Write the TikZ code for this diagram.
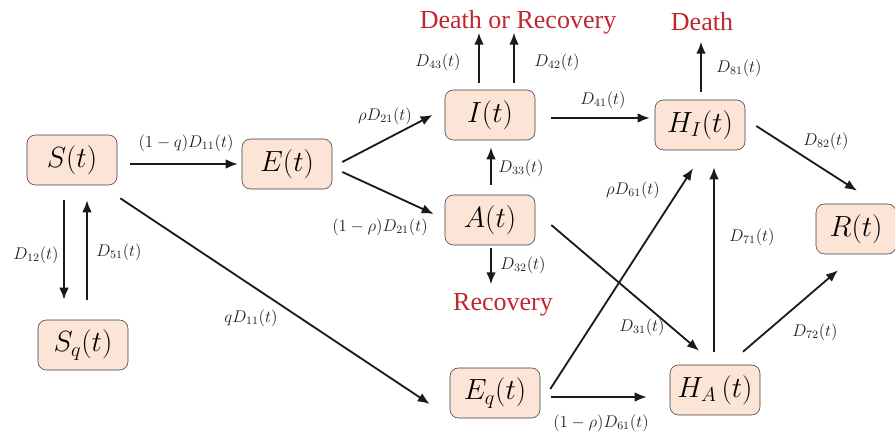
\documentclass[tikz,border=0pt]{standalone}
\usepackage[no-math]{fontspec}
\newfontfamily\outfont{Liberation Serif}
\usetikzlibrary{arrows.meta,calc}
\definecolor{peach}{HTML}{FCE4D6}
\definecolor{edge}{HTML}{404040}
\definecolor{ink}{HTML}{1A1A1A}
\definecolor{deathred}{HTML}{C0262D}

\begin{document}
\begin{tikzpicture}[x=0.025cm,y=-0.025cm,
  box/.style={draw=edge,fill=peach,rounded corners=6pt,minimum width=2.25cm,minimum height=1.25cm,inner sep=0pt,font=\fontsize{21}{24}\selectfont},
  flow/.style={-{Latex[length=0.3cm,width=0.24cm]},line width=1.3pt,draw=ink},
  lab/.style={inner sep=0pt,text=black!88,font=\fontsize{12}{14}\selectfont},
  outcome/.style={inner sep=0pt,text=deathred,font=\fontsize{18.5}{22}\selectfont\outfont}]
\useasboundingbox (0,0) rectangle (895,432);
% compartments
\node[box] (S) at (72,160){$S(t)$};
\node[box] (E) at (287,164){$E(t)$};
\node[box] (Sq) at (83,345){$S_q(t)$};
\node[box] (I) at (490,115){$I(t)$};
\node[box] (A) at (490,220){$A(t)$};
\node[box] (HI) at (700,125){$H_I(t)$};
\node[box,minimum width=2cm] (R) at (856,229){$R(t)$};
\node[box] (Eq) at (495,393){$E_q(t)$};
\node[box] (HA) at (715,390){$H_A\,(t)$};
% outcomes
\node[outcome] (dr) at (518,22){Death or Recovery};
\node[outcome] (dth) at (702,22){Death};
\node[outcome] (rec) at (503,305){Recovery};
% flows
\draw[flow] ([shift={(13,4)}]S.east)--([shift={(-4,0)}]E.west);
\draw[flow] ([shift={(-8,15)}]S.south)--([shift={(-19,-20)}]Sq.north);
\draw[flow] ([shift={(4,-20)}]Sq.north)--([shift={(15,15)}]S.south);
\draw[flow] ([shift={(3,13)}]S.south east)--([shift={(-20,11)}]Eq.west);
\draw[flow] ([shift={(10,-2)}]E.east)--([shift={(-12,0)}]I.west);
\draw[flow] ([shift={(10,8)}]E.east)--([shift={(-11,-6)}]A.west);
\draw[flow] ([shift={(-11,-7)}]I.north)--([shift={(-11,-57)}]I.north);
\draw[flow] ([shift={(24,-7)}]I.north)--([shift={(24,-57)}]I.north);
\draw[flow] ([shift={(1,-10)}]A.north)--([shift={(1,7)}]I.south);
\draw[flow] ([shift={(1,3)}]A.south)--([shift={(1,39)}]A.south);
\draw[flow] ([shift={(16,3)}]I.east)--([shift={(-5,-7)}]HI.west);
\draw[flow] ([shift={(1,-8)}]HI.north)--([shift={(1,-58)}]HI.north);
\draw[flow] ([shift={(11,1)}]HI.east)--([shift={(1,-13)}]R.north);
\draw[flow] ([shift={(10,-4)}]Eq.east)--([shift={(-7,18)}]HI.south);
\draw[flow] ([shift={(11,4)}]Eq.east)--([shift={(-23,7)}]HA.west);
\draw[flow] ([shift={(16,5)}]A.east)--([shift={(-16,-14)}]HA.north);
\draw[flow] ([shift={(-1,-13)}]HA.north)--([shift={(14,17)}]HI.south);
\draw[flow] ([shift={(28,-13)}]HA.north)--([shift={(-18,16)}]R.south);
% rates
\node[lab] (l1) at (186,143){$(1-q)D_{11}(t)$};
\node[lab] (l2) at (36,255){$D_{12}(t)$};
\node[lab] (l3) at (119,252){$D_{51}(t)$};
\node[lab] (l4) at (251,318){$qD_{11}(t)$};
\node[lab] (l5) at (385,116){$\rho D_{21}(t)$};
\node[lab] (l6) at (380,227){$(1-\rho)D_{21}(t)$};
\node[lab] (l7) at (438,62){$D_{43}(t)$};
\node[lab] (l8) at (557,62){$D_{42}(t)$};
\node[lab] (l9) at (521,168){$D_{33}(t)$};
\node[lab] (l10) at (523,265){$D_{32}(t)$};
\node[lab] (l11) at (603,100){$D_{41}(t)$};
\node[lab] (l12) at (739,68){$D_{81}(t)$};
\node[lab] (l13) at (826,141){$D_{82}(t)$};
\node[lab] (l14) at (633,190){$\rho D_{61}(t)$};
\node[lab] (l15) at (752,237){$D_{71}(t)$};
\node[lab] (l16) at (642,327){$D_{31}(t)$};
\node[lab] (l17) at (815,332){$D_{72}(t)$};
\node[lab] (l18) at (601,423){$(1-\rho)D_{61}(t)$};
\end{tikzpicture}
\end{document}
